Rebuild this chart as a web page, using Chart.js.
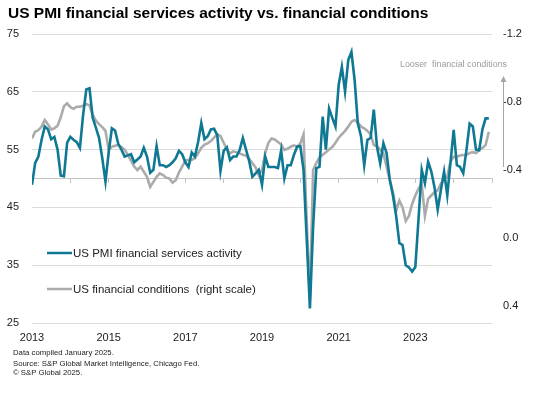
<!DOCTYPE html>
<html><head><meta charset="utf-8">
<script src="https://cdn.jsdelivr.net/npm/chart.js@4.4.1/dist/chart.umd.min.js"></script>
<style>
html,body{margin:0;padding:0;background:#fff;}
#wrap{position:relative;width:544px;height:397px;overflow:hidden;font-family:"Liberation Sans",Arial,sans-serif;}
#title{position:absolute;left:8px;top:5px;font-weight:bold;font-size:15.5px;line-height:15px;color:#000;white-space:nowrap;}
.foot{position:absolute;left:13px;font-size:7.75px;line-height:8px;color:#222;white-space:nowrap;}
canvas{position:absolute;left:0;top:0;}
</style></head><body>
<div id="wrap">
<canvas id="c" width="544" height="397"></canvas>
<div id="title">US PMI financial services activity vs. financial conditions</div>
<div class="foot" style="top:349px">Data compiled January 2025.</div>
<div class="foot" style="top:360px">Source: S&amp;P Global Market Intelligence, Chicago Fed.</div>
<div class="foot" style="top:369px">© S&amp;P Global 2025.</div>
</div>
<script>
const startYear = 2013;
const endYear = 2025;
const seriesNames = ['US PMI financial services activity', 'US financial conditions  (right scale)'];
const pmi = [
  48.9, 52.7, 53.8, 56.7, 59.0, 58.5, 56.8, 57.2, 55.0, 50.5, 50.4, 56.2,
  57.2, 56.7, 56.3, 55.3, 61.0, 65.4, 65.6, 60.5, 58.8, 57.0, 53.5, 49.5,
  54.5, 58.7, 58.3, 56.0, 55.0, 53.8, 54.0, 54.2, 52.8, 53.3, 53.8, 55.3,
  53.8, 51.0, 51.5, 55.6, 52.3, 52.3, 52.0, 52.3, 52.8, 53.5, 54.8, 54.2,
  52.8, 52.0, 54.5, 53.8, 56.3, 59.6, 56.8, 57.3, 58.5, 58.6, 57.5, 51.3,
  54.8, 55.4, 53.2, 53.8, 53.8, 54.9, 57.0, 55.0, 53.0, 50.3, 50.9, 51.5,
  48.9, 53.8, 52.0, 52.0, 52.0, 51.8, 54.9, 50.0, 52.3, 52.3, 54.1, 55.5,
  55.6, 51.5, 39.5, 27.5, 41.6, 51.8, 52.0, 60.7, 55.0, 62.1, 60.5, 59.0,
  66.2, 69.3, 65.0, 70.5, 71.9, 67.0, 59.5, 57.3, 52.3, 56.7, 57.0, 61.9,
  55.5, 52.6, 56.1, 54.4, 49.8, 47.0, 43.5, 38.8, 38.5, 35.0, 34.6, 33.9,
  34.7, 43.0, 51.5, 49.2, 52.9, 51.2, 48.5, 44.6, 48.0, 51.2, 47.1, 52.7,
  58.4, 52.3, 52.0, 50.9, 54.9, 59.5, 59.0, 55.0, 54.9, 58.5, 60.4, 60.4
];
const fci = [
  -0.586, -0.625, -0.635, -0.655, -0.694, -0.668, -0.638, -0.645, -0.660, -0.710, -0.775, -0.792,
  -0.770, -0.760, -0.772, -0.772, -0.778, -0.788, -0.780, -0.725, -0.690, -0.670, -0.652, -0.630,
  -0.520, -0.537, -0.542, -0.547, -0.535, -0.520, -0.490, -0.455, -0.420, -0.400, -0.420, -0.390,
  -0.360, -0.300, -0.330, -0.360, -0.380, -0.370, -0.355, -0.350, -0.325, -0.340, -0.385, -0.420,
  -0.455, -0.460, -0.459, -0.470, -0.498, -0.530, -0.550, -0.557, -0.570, -0.590, -0.610, -0.600,
  -0.560, -0.520, -0.498, -0.510, -0.505, -0.498, -0.490, -0.485, -0.465, -0.440, -0.415, -0.370,
  -0.400, -0.500, -0.560, -0.585, -0.580, -0.565, -0.550, -0.518, -0.525, -0.537, -0.545, -0.537,
  -0.557, -0.610, -0.100, 0.360, -0.400, -0.440, -0.475, -0.490, -0.505, -0.520, -0.535, -0.560,
  -0.590, -0.610, -0.630, -0.655, -0.684, -0.694, -0.680, -0.655, -0.645, -0.630, -0.610, -0.547,
  -0.540, -0.520, -0.498, -0.420, -0.340, -0.270, -0.160, -0.220, -0.180, -0.100, -0.130, -0.200,
  -0.250, -0.290, -0.320, -0.130, -0.230, -0.250, -0.270, -0.280, -0.320, -0.345, -0.360, -0.450,
  -0.478, -0.478, -0.485, -0.488, -0.488, -0.500, -0.505, -0.500, -0.518, -0.530, -0.547, -0.625
];
const xTickYears = [2013, 2015, 2017, 2019, 2021, 2023];
const leftTicks = [25, 35, 45, 55, 65, 75];
const rightTicks = [-1.2, -0.8, -0.4, 0.0, 0.4];
const annotationText = 'Looser  financial conditions';

// month positions as decimal years (categories)
const months = pmi.map((_, i) => startYear + i / 12);

const TEAL = '#0f7893';
const GREY = '#ababab';
const FONT = '"Liberation Sans", Arial, sans-serif';

const overlay = {
  id: 'overlay',
  afterDatasetsDraw(chart) {
    const {ctx, chartArea: a} = chart;
    ctx.save();
    const rows = [a.top + 219, a.top + 255];
    chart.data.datasets.forEach((ds, i) => {
      const y = rows[i];
      ctx.strokeStyle = ds.borderColor;
      ctx.lineWidth = 2.5;
      ctx.beginPath(); ctx.moveTo(a.left + 15, y); ctx.lineTo(a.left + 40, y); ctx.stroke();
      ctx.fillStyle = '#222';
      ctx.font = '11.5px ' + FONT;
      ctx.textBaseline = 'middle';
      ctx.textAlign = 'left';
      ctx.fillText(ds.label, a.left + 41, y + 0.5);
    });
    // annotation
    ctx.fillStyle = '#9a9a9a';
    ctx.font = '8.9px ' + FONT;
    ctx.textAlign = 'right';
    ctx.textBaseline = 'alphabetic';
    ctx.fillText(annotationText, a.right + 15, a.top + 33);
    const ax = a.right + 11.5;
    ctx.strokeStyle = '#a6a6a6';
    ctx.lineWidth = 1;
    ctx.beginPath(); ctx.moveTo(ax, a.top + 133); ctx.lineTo(ax, a.top + 47); ctx.stroke();
    ctx.fillStyle = '#a6a6a6';
    ctx.beginPath(); ctx.moveTo(ax, a.top + 42); ctx.lineTo(ax - 3, a.top + 48); ctx.lineTo(ax + 3, a.top + 48); ctx.closePath(); ctx.fill();
    ctx.restore();
  }
};

new Chart(document.getElementById('c'), {
  type: 'line',
  data: {
    datasets: [
      { label: seriesNames[0], data: pmi.map((v, i) => ({x: months[i], y: v})), yAxisID: 'y', xAxisID: 'x',
        borderColor: TEAL, borderWidth: 2.6, pointRadius: 0, tension: 0, fill: false },
      { label: seriesNames[1], data: fci.map((v, i) => ({x: months[i], y: v})), yAxisID: 'y1', xAxisID: 'x',
        borderColor: GREY, borderWidth: 2.6, pointRadius: 0, tension: 0, fill: false }
    ]
  },
  options: {
    responsive: false,
    animation: false,
    devicePixelRatio: 1,
    layout: { padding: { top: 34, left: 0, right: 0, bottom: 0 } },
    plugins: { legend: { display: false }, tooltip: { enabled: false }, title: { display: false } },
    scales: {
      x: {
        type: 'linear', position: 'bottom', min: startYear, max: endYear,
        afterBuildTicks: s => { s.ticks = xTickYears.map(v => ({value: v})); },
        afterFit: s => { s.height = 74; },
        grid: { display: false, drawTicks: false }, border: { display: false },
        ticks: { autoSkip: false, maxRotation: 0, padding: 8, color: '#222', font: { family: FONT, size: 11 }, callback: v => String(v) }
      },
      xBase: {
        type: 'linear', position: { y: 50 }, min: startYear, max: endYear,
        afterBuildTicks: s => { const t = []; for (let yr = startYear; yr <= endYear; yr++) t.push({value: yr}); s.ticks = t; },
        grid: { drawOnChartArea: false, drawTicks: true, tickLength: 4, color: '#c4c4c4', lineWidth: 1 },
        border: { display: true, color: '#c4c4c4', width: 1 },
        ticks: { display: false }
      },
      y: {
        position: 'left', min: 25, max: 75,
        afterBuildTicks: s => { s.ticks = leftTicks.map(v => ({value: v})); },
        afterFit: s => { s.width = 32; },
        grid: { color: '#dcdcdc', drawTicks: false, lineWidth: 1 }, border: { display: false },
        ticks: { padding: 13, color: '#222', font: { family: FONT, size: 11 } }
      },
      y1: {
        position: 'right', reverse: true, min: -1.2, max: 0.5,
        afterBuildTicks: s => { s.ticks = rightTicks.map(v => ({value: v})); },
        afterFit: s => { s.width = 52; },
        grid: { display: false, drawTicks: false }, border: { display: false },
        ticks: { padding: 11, color: '#222', font: { family: FONT, size: 11 }, callback: v => v.toFixed(1) }
      }
    }
  },
  plugins: [overlay]
});
</script>
</body></html>
